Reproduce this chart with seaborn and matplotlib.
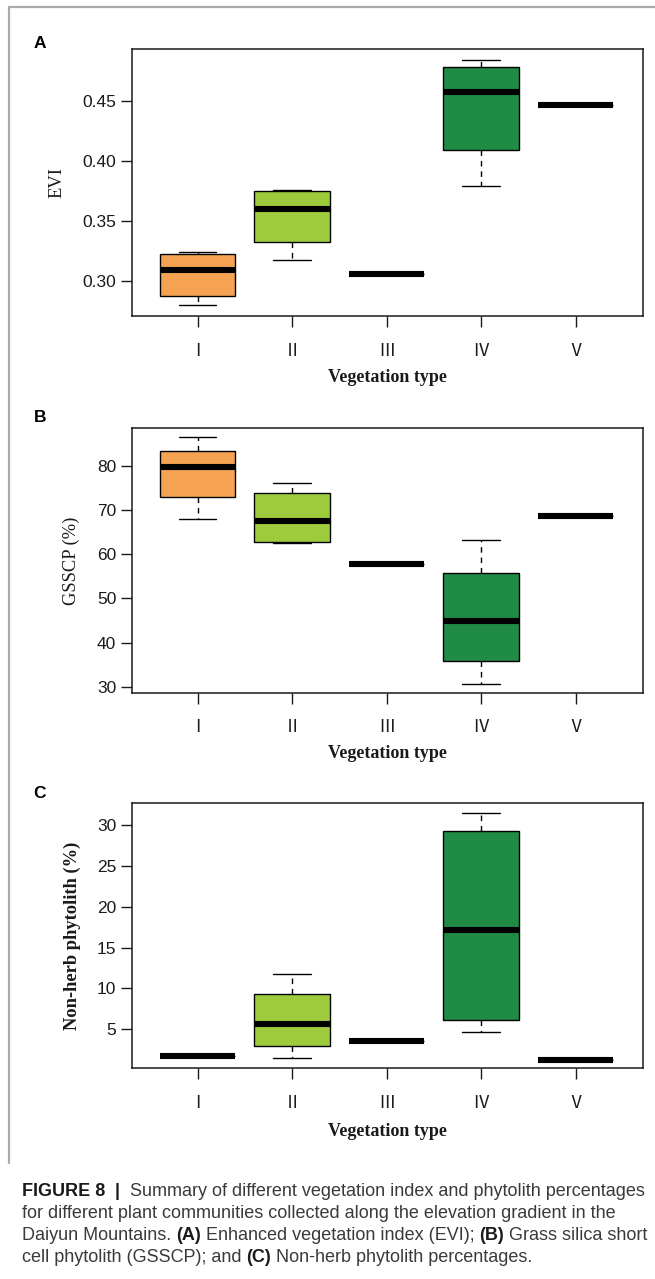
import numpy as np
import pandas as pd
import matplotlib
matplotlib.use("Agg")
import matplotlib.pyplot as plt
import seaborn as sns
from matplotlib.lines import Line2D

# ---------------- data ----------------
veg_types = ["Ⅰ", "Ⅱ", "Ⅲ", "Ⅳ", "Ⅴ"]
type_colors = ["#F5A352", "#9DCB3C", "#9DCB3C", "#1F8B45", "#1F8B45"]

evi_min = [0.2797, 0.3173, 0.3060, 0.3789, 0.4464]
evi_q1 = [0.2875, 0.3320, 0.3060, 0.4090, 0.4464]
evi_med = [0.3090, 0.3597, 0.3060, 0.4570, 0.4464]
evi_q3 = [0.3220, 0.3747, 0.3060, 0.4777, 0.4464]
evi_max = [0.3242, 0.3758, 0.3060, 0.4839, 0.4464]

gsscp_min = [67.9, 62.6, 57.7, 30.6, 68.7]
gsscp_q1 = [73.05, 62.85, 57.7, 35.8, 68.7]
gsscp_med = [79.7, 67.6, 57.7, 44.8, 68.7]
gsscp_q3 = [83.5, 73.9, 57.7, 55.7, 68.7]
gsscp_max = [86.5, 76.15, 57.7, 63.15, 68.7]

nonherb_min = [1.74, 1.45, 3.53, 4.71, 1.29]
nonherb_q1 = [1.74, 3.00, 3.53, 6.18, 1.29]
nonherb_med = [1.74, 5.61, 3.53, 17.15, 1.29]
nonherb_q3 = [1.74, 9.28, 3.53, 29.27, 1.29]
nonherb_max = [1.74, 11.81, 3.53, 31.50, 1.29]

evi_ticks = [0.30, 0.35, 0.40, 0.45]
evi_ticklabels = ["0.30", "0.35", "0.40", "0.45"]
gsscp_ticks = [30, 40, 50, 60, 70, 80]
gsscp_ticklabels = ["30", "40", "50", "60", "70", "80"]
nonherb_ticks = [5, 10, 15, 20, 25, 30]
nonherb_ticklabels = ["5", "10", "15", "20", "25", "30"]


def long_frame(mins, q1s, meds, q3s, maxs):
    rows = []
    for t, a, b, c, d, e in zip(veg_types, mins, q1s, meds, q3s, maxs):
        for v in (a, b, c, d, e):
            rows.append({"type": t, "value": v})
    return pd.DataFrame(rows)


df_evi = long_frame(evi_min, evi_q1, evi_med, evi_q3, evi_max)
df_gsscp = long_frame(gsscp_min, gsscp_q1, gsscp_med, gsscp_q3, gsscp_max)
df_nonherb = long_frame(nonherb_min, nonherb_q1, nonherb_med, nonherb_q3, nonherb_max)

# ---------------- style ----------------
sns.set_style("ticks")
plt.rcParams["font.family"] = ["Liberation Sans", "DejaVu Sans"]

W, H = 655, 1279
fig = plt.figure(figsize=(W / 100, H / 100), dpi=100)
fig.patch.set_facecolor("white")


def px_axes(left, top, right, bottom):
    return fig.add_axes([left / W, 1 - bottom / H, (right - left) / W, (bottom - top) / H])


panels = [
    (df_evi, "EVI", (0.2706, 0.4928), evi_ticks, evi_ticklabels, (49.3, 316.0), 57, 62, False, "A", 43),
    (df_gsscp, "GSSCP (%)", (28.64, 88.54), gsscp_ticks, gsscp_ticklabels, (428.3, 692.7), 71, 61, False, "B", 418),
    (df_nonherb, "Non-herb phytolith (%)", (0.23, 32.66), nonherb_ticks, nonherb_ticklabels, (803.3, 1068.3), 72, 63, True, "C", 793),
]

AX_L, AX_R = 131.6, 643.3

for df, ylab, ylim, ticks, ticklabels, (top, bot), ylab_x, xlab_off, ybold, letter, letter_y in panels:
    ax = px_axes(AX_L, top, AX_R, bot)
    sns.boxplot(
        data=df, x="type", y="value", hue="type",
        order=veg_types, hue_order=veg_types, palette=type_colors,
        saturation=1, width=0.8, whis=1.5, showfliers=False,
        linecolor="black", linewidth=1.0,
        medianprops={"linewidth": 4.4, "color": "black", "solid_capstyle": "butt"},
        whiskerprops={"linestyle": (0, (4, 3.5)), "linewidth": 1.0},
        capprops={"linewidth": 1.0},
        legend=False, ax=ax,
    )
    ax.set_xlim(-0.698, 4.716)
    ax.set_ylim(*ylim)
    ax.set_yticks(ticks)
    ax.set_yticklabels(ticklabels, fontsize=12.5, family=["Liberation Sans", "DejaVu Sans"], color="#1a1a1a")
    ax.set_xticks(range(len(veg_types)))
    ax.set_xticklabels(veg_types, fontsize=12.5, family=["Noto Sans CJK SC", "DejaVu Sans"], color="#1a1a1a")
    ax.tick_params(axis="y", length=8, width=1.0, pad=3, color="#1a1a1a")
    ax.tick_params(axis="x", length=8, width=1.0, pad=10.5, color="#1a1a1a")
    for s in ax.spines.values():
        s.set_visible(True)
        s.set_linewidth(1.1)
        s.set_color("#1a1a1a")
    ax.grid(False)

    axw = AX_R - AX_L
    axh = bot - top
    ax.set_xlabel("Vegetation type", family=["Liberation Serif", "DejaVu Serif"],
                  fontweight="bold", fontsize=13, color="#1a1a1a")
    ax.xaxis.set_label_coords(0.5, -xlab_off / axh)
    ax.xaxis.label.set_va("center")
    ax.set_ylabel(ylab, family=["Liberation Serif", "DejaVu Serif"],
                  fontweight="bold" if ybold else "normal", fontsize=13.3, color="#1a1a1a")
    ax.yaxis.set_label_coords((ylab_x - AX_L) / axw, 0.5)
    ax.yaxis.label.set_va("center")
    ax.yaxis.label.set_ha("center")

    fig.text(39.7 / W, 1 - letter_y / H, letter, fontsize=12.5, fontweight="bold",
             ha="center", va="center", color="black")

# ---------------- outer frame ----------------
fig.add_artist(Line2D([8.5 / W, 1.0], [1 - 7 / H, 1 - 7 / H], transform=fig.transFigure,
                      color="#aaaaaa", linewidth=1.6))
fig.add_artist(Line2D([8.5 / W, 8.5 / W], [1 - 7 / H, 1 - 1163 / H], transform=fig.transFigure,
                      color="#aaaaaa", linewidth=1.6))

# ---------------- caption ----------------
caption_lines = [
    [("FIGURE 8", True), ("  |  ", True), ("Summary of different vegetation index and phytolith percentages", False)],
    [("for different plant communities collected along the elevation gradient in the", False)],
    [("Daiyun Mountains. ", False), ("(A)", True), (" Enhanced vegetation index (EVI); ", False),
     ("(B)", True), (" Grass silica short", False)],
    [("cell phytolith (GSSCP); and ", False), ("(C)", True), (" Non-herb phytolith percentages.", False)],
]
caption_baselines = [1196, 1218, 1240, 1262]
cap_left, cap_right = 22, 646

renderer = fig.canvas.get_renderer()


def run_width(runs, size):
    total = 0.0
    for txt, b in runs:
        t = fig.text(0, 0, txt, fontsize=size, fontweight="bold" if b else "normal")
        total += t.get_window_extent(renderer=renderer).width
        t.remove()
    return total


size0 = 10.0
w0 = run_width(caption_lines[0], size0)
cap_size = size0 * (cap_right - cap_left) / w0

for runs, base in zip(caption_lines, caption_baselines):
    x = cap_left
    for txt, b in runs:
        t = fig.text(x / W, 1 - base / H, txt, fontsize=cap_size,
                     fontweight="bold" if b else "normal",
                     color="#1a1a1a" if b else "#3a3a3a", ha="left", va="baseline")
        x += t.get_window_extent(renderer=renderer).width

fig.savefig("out.png", dpi=100, facecolor="white")
